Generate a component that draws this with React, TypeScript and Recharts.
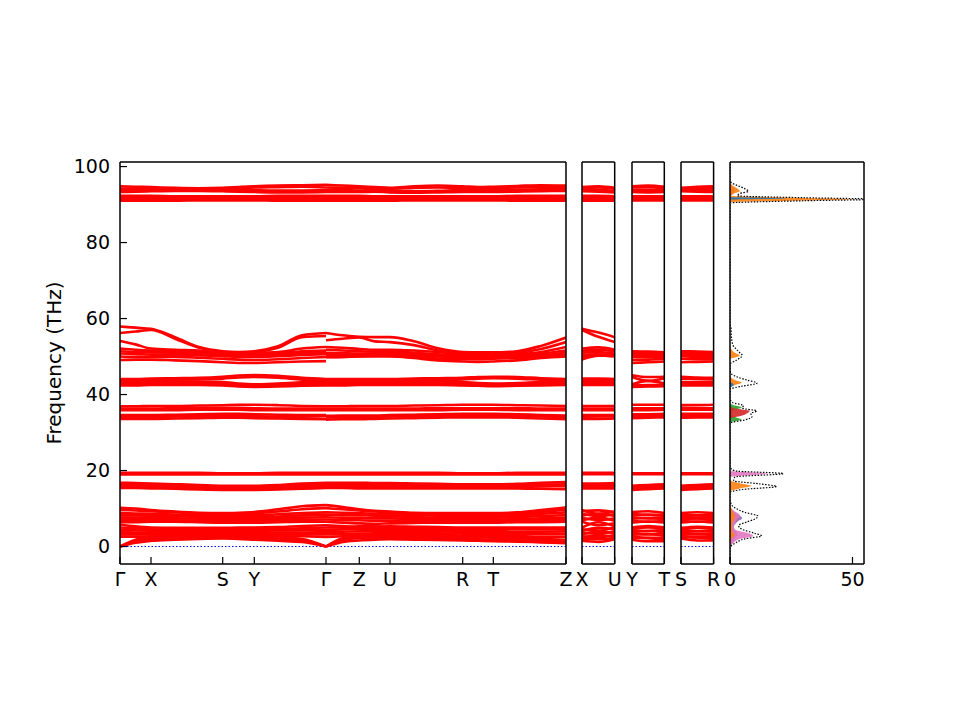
import React from "react";
import {
  LineChart,
  ComposedChart,
  Line,
  Area,
  XAxis,
  YAxis,
  ReferenceLine,
} from "recharts";

// ---- axes ----
const freqDomain: [number, number] = [-4.6, 101.2];
const freqTicks = [0, 20, 40, 60, 80, 100];

// k-path positions (main panel, distance along path)
const pathA = [0, 15.5, 31, 55, 79, 102.7, 118.5, 134.3, 158, 182, 206];
const pathB = [206, 222.6, 239.3, 254.7, 270, 294, 318, 342.7, 358, 373.3, 397, 421, 446];
const kTicks = [0, 31, 102.7, 134.3, 206, 239.3, 270, 342.7, 373.3, 446];
const kLabels = ["Γ", "X", "S", "Y", "Γ", "Z", "U", "R", "T", "Z"];

// ---- bands, segment Γ-X-S-Y-Γ ----
const lowA = [
  [10.2, 10.0, 9.6, 9.2, 8.9, 8.8, 8.9, 9.1, 9.8, 10.6, 10.9],
  [9.6, 9.5, 9.3, 9.0, 8.6, 8.4, 8.5, 8.7, 9.2, 9.8, 10.1],
  [8.8, 8.7, 8.6, 8.4, 8.2, 8.0, 8.1, 8.2, 8.5, 8.8, 9.0],
  [8.2, 8.2, 8.1, 8.0, 7.8, 7.6, 7.6, 7.7, 7.9, 8.2, 8.4],
  [7.6, 7.6, 7.5, 7.4, 7.3, 7.2, 7.2, 7.3, 7.4, 7.6, 7.7],
  [7.0, 7.0, 6.9, 6.9, 6.8, 6.8, 6.7, 6.8, 6.9, 7.0, 7.1],
  [6.4, 6.4, 6.5, 6.5, 6.4, 6.3, 6.3, 6.3, 6.4, 6.5, 6.5],
  [5.8, 5.3, 5.0, 4.9, 4.9, 4.9, 5.0, 5.0, 5.1, 5.4, 5.6],
  [5.0, 4.8, 4.5, 4.4, 4.3, 4.4, 4.6, 4.7, 4.6, 4.8, 5.0],
  [4.4, 4.3, 4.1, 4.0, 4.0, 4.1, 4.2, 4.3, 4.2, 4.3, 4.4],
  [3.8, 3.7, 3.6, 3.6, 3.6, 3.7, 3.8, 3.8, 3.7, 3.7, 3.8],
  [3.2, 3.2, 3.2, 3.2, 3.3, 3.4, 3.4, 3.4, 3.3, 3.2, 3.2],
  [2.6, 2.6, 2.7, 2.8, 3.0, 3.1, 3.1, 3.1, 2.9, 2.7, 2.5],
  [0, 1.8, 2.4, 2.6, 2.7, 2.8, 2.8, 2.7, 2.4, 2.0, 0],
  [0, 1.4, 2.0, 2.2, 2.4, 2.5, 2.4, 2.3, 2.0, 1.6, 0],
  [0, 1.0, 1.5, 1.8, 2.0, 2.1, 2.0, 1.8, 1.5, 1.2, 0],
];
const band16A = [
  [19.4, 19.4, 19.4, 19.4, 19.4, 19.3, 19.3, 19.3, 19.4, 19.4, 19.4],
  [19.0, 19.0, 19.0, 19.0, 19.0, 19.0, 19.0, 19.0, 19.0, 19.0, 19.0],
  [16.8, 16.7, 16.6, 16.4, 16.2, 16.0, 16.0, 16.0, 16.2, 16.6, 16.8],
  [16.3, 16.3, 16.2, 16.0, 15.8, 15.6, 15.6, 15.6, 15.8, 16.1, 16.3],
  [15.8, 15.8, 15.7, 15.6, 15.4, 15.2, 15.2, 15.2, 15.4, 15.6, 15.8],
  [15.4, 15.4, 15.3, 15.2, 15.0, 14.9, 14.9, 14.9, 15.0, 15.2, 15.4],
];
const band35A = [
  [36.9, 36.9, 37.0, 37.0, 37.1, 37.2, 37.3, 37.3, 37.2, 37.0, 36.9],
  [36.3, 36.3, 36.3, 36.4, 36.5, 36.5, 36.5, 36.4, 36.3, 36.3, 36.3],
  [35.9, 35.9, 35.9, 35.9, 36.0, 36.0, 36.0, 35.9, 35.9, 35.9, 35.9],
  [34.6, 34.6, 34.6, 34.7, 34.8, 34.9, 34.9, 34.8, 34.7, 34.6, 34.6],
  [34.2, 34.2, 34.1, 34.2, 34.3, 34.4, 34.4, 34.3, 34.2, 34.2, 34.3],
  [33.6, 33.6, 33.6, 33.7, 33.8, 33.9, 33.9, 33.8, 33.7, 33.6, 33.5],
];
const band43A = [
  [44.1, 44.1, 44.2, 44.3, 44.4, 44.7, 45.0, 45.1, 44.9, 44.4, 44.1],
  [43.7, 43.7, 43.8, 43.9, 44.0, 44.2, 44.5, 44.6, 44.4, 43.9, 43.7],
  [43.3, 43.3, 43.3, 43.4, 43.4, 43.3, 42.9, 42.7, 42.9, 43.2, 43.3],
  [42.8, 42.9, 42.9, 43.0, 43.0, 42.8, 42.5, 42.4, 42.5, 42.8, 42.8],
  [42.4, 42.4, 42.5, 42.5, 42.5, 42.4, 42.1, 42.0, 42.1, 42.3, 42.4],
];
const band52A = [
  [57.9, 57.6, 57.3, 55.1, 52.5, 51.4, 51.2, 51.4, 52.7, 55.6, 56.2],
  [56.2, 56.6, 57.0, 54.7, 52.3, 51.2, 51.0, 51.2, 52.3, 55.1, 55.4],
  [54.1, 53.2, 52.1, 51.8, 51.6, 51.0, 50.9, 51.0, 51.2, 52.1, 52.5],
  [52.1, 51.8, 51.6, 51.5, 51.3, 50.8, 50.6, 50.6, 50.8, 51.4, 51.6],
  [51.4, 51.2, 51.1, 51.0, 50.9, 50.5, 50.3, 50.3, 50.5, 50.9, 51.1],
  [50.8, 50.7, 50.5, 50.4, 50.3, 50.1, 49.9, 49.9, 50.1, 50.4, 50.6],
  [50.0, 49.9, 49.9, 49.9, 49.7, 49.4, 49.2, 49.1, 49.3, 49.6, 49.9],
  [49.1, 49.2, 49.2, 49.0, 48.8, 48.5, 48.3, 48.3, 48.5, 48.7, 48.8],
];
const band93A = [
  [91.0, 91.0, 91.0, 91.0, 91.1, 91.1, 91.1, 91.1, 91.0, 91.0, 91.0],
  [91.4, 91.4, 91.5, 91.5, 91.5, 91.5, 91.5, 91.5, 91.5, 91.4, 91.4],
  [91.9, 91.9, 91.9, 92.0, 92.0, 92.0, 92.0, 92.0, 91.9, 91.9, 91.9],
  [92.3, 92.3, 92.3, 92.2, 92.2, 92.2, 92.2, 92.2, 92.3, 92.3, 92.3],
  [93.3, 93.4, 93.5, 93.6, 93.6, 93.5, 93.4, 93.3, 93.2, 93.2, 93.3],
  [93.8, 93.8, 93.8, 94.0, 94.1, 94.0, 93.9, 93.8, 93.7, 93.7, 93.8],
  [94.2, 94.2, 94.3, 94.2, 94.1, 94.2, 94.3, 94.5, 94.6, 94.7, 94.5],
  [94.8, 94.7, 94.6, 94.4, 94.3, 94.4, 94.6, 94.8, 95.0, 95.1, 95.2],
];

// ---- bands, segment Γ-Z-U-R-T-Z ----
const lowB = [
  [10.9, 10.4, 9.8, 9.4, 9.2, 8.9, 8.8, 8.8, 8.8, 8.8, 9.0, 9.6, 10.3],
  [10.1, 9.8, 9.5, 9.2, 9.0, 8.7, 8.5, 8.4, 8.4, 8.4, 8.6, 9.1, 9.7],
  [9.0, 8.9, 8.8, 8.6, 8.5, 8.3, 8.1, 8.0, 8.0, 8.0, 8.2, 8.6, 9.0],
  [8.4, 8.3, 8.2, 8.1, 8.0, 7.8, 7.6, 7.6, 7.6, 7.6, 7.8, 8.0, 8.3],
  [7.7, 7.6, 7.5, 7.4, 7.4, 7.3, 7.2, 7.1, 7.1, 7.1, 7.2, 7.4, 7.6],
  [7.1, 7.0, 6.9, 6.8, 6.8, 6.8, 6.7, 6.7, 6.7, 6.7, 6.8, 6.9, 7.0],
  [6.5, 6.3, 6.1, 6.0, 6.1, 6.2, 6.3, 6.3, 6.3, 6.3, 6.4, 6.4, 6.5],
  [5.6, 5.4, 5.1, 5.2, 5.3, 5.2, 5.1, 5.0, 5.0, 5.0, 5.0, 5.0, 5.0],
  [5.0, 5.1, 5.3, 5.3, 5.1, 4.9, 4.8, 4.7, 4.7, 4.7, 4.8, 4.8, 4.8],
  [4.4, 4.5, 4.6, 4.6, 4.6, 4.6, 4.5, 4.4, 4.4, 4.4, 4.5, 4.5, 4.6],
  [3.8, 3.9, 4.0, 4.1, 4.1, 4.1, 4.0, 3.9, 3.9, 3.8, 3.8, 3.9, 4.0],
  [3.2, 3.3, 3.4, 3.5, 3.5, 3.5, 3.5, 3.4, 3.3, 3.3, 3.3, 3.4, 3.4],
  [2.5, 2.7, 2.9, 3.0, 3.0, 3.0, 3.0, 2.9, 2.8, 2.8, 2.7, 2.6, 2.6],
  [0, 2.2, 2.6, 2.7, 2.7, 2.6, 2.6, 2.5, 2.4, 2.3, 2.2, 2.0, 1.8],
  [0, 1.7, 2.2, 2.3, 2.3, 2.2, 2.1, 2.0, 1.9, 1.8, 1.7, 1.5, 1.3],
  [0, 1.2, 1.6, 1.8, 1.9, 1.8, 1.7, 1.6, 1.5, 1.4, 1.3, 1.1, 0.9],
];
const band16B = [
  [19.4, 19.4, 19.4, 19.4, 19.4, 19.4, 19.4, 19.3, 19.3, 19.3, 19.4, 19.4, 19.4],
  [19.0, 19.0, 19.0, 19.0, 19.0, 19.0, 19.0, 19.0, 19.0, 19.0, 19.0, 19.0, 19.0],
  [16.8, 16.8, 16.8, 16.7, 16.7, 16.6, 16.5, 16.4, 16.4, 16.4, 16.5, 16.8, 17.0],
  [16.3, 16.3, 16.3, 16.3, 16.2, 16.1, 16.0, 16.0, 16.0, 16.0, 16.1, 16.3, 16.4],
  [15.8, 15.8, 15.8, 15.8, 15.8, 15.7, 15.6, 15.6, 15.6, 15.6, 15.7, 15.8, 15.9],
  [15.4, 15.4, 15.3, 15.3, 15.3, 15.3, 15.3, 15.3, 15.3, 15.3, 15.3, 15.2, 15.1],
];
const band35B = [
  [36.9, 36.9, 37.0, 37.0, 37.0, 37.1, 37.2, 37.3, 37.3, 37.3, 37.2, 37.1, 37.0],
  [36.3, 36.3, 36.3, 36.3, 36.3, 36.3, 36.4, 36.4, 36.4, 36.4, 36.4, 36.3, 36.3],
  [35.9, 35.9, 35.9, 35.9, 35.9, 35.9, 35.9, 36.0, 36.0, 36.0, 35.9, 35.9, 35.9],
  [34.4, 34.5, 34.5, 34.5, 34.6, 34.7, 34.8, 34.9, 34.9, 34.9, 34.8, 34.6, 34.5],
  [34.0, 34.0, 34.1, 34.1, 34.2, 34.3, 34.4, 34.5, 34.5, 34.5, 34.4, 34.2, 34.1],
  [33.4, 33.5, 33.5, 33.6, 33.7, 33.8, 33.9, 34.0, 34.0, 34.0, 33.9, 33.7, 33.5],
];
const band43B = [
  [44.1, 44.1, 44.1, 44.1, 44.1, 44.2, 44.3, 44.4, 44.6, 44.7, 44.6, 44.3, 44.1],
  [43.7, 43.7, 43.7, 43.8, 43.8, 43.8, 43.9, 44.0, 44.2, 44.3, 44.2, 43.9, 43.7],
  [43.3, 43.3, 43.3, 43.4, 43.4, 43.4, 43.4, 43.3, 43.0, 42.9, 43.0, 43.3, 43.4],
  [42.8, 42.8, 42.9, 42.9, 42.9, 42.9, 42.9, 42.8, 42.6, 42.5, 42.6, 42.8, 42.9],
  [42.4, 42.4, 42.5, 42.5, 42.5, 42.5, 42.5, 42.4, 42.3, 42.2, 42.3, 42.4, 42.5],
];
const band52B = [
  [56.2, 55.6, 55.2, 55.1, 55.1, 54.0, 52.2, 51.2, 51.1, 51.1, 51.4, 52.8, 55.0],
  [54.3, 54.7, 55.0, 54.0, 53.8, 53.0, 51.6, 50.8, 50.7, 50.7, 51.0, 52.0, 53.8],
  [52.5, 52.3, 52.0, 51.8, 51.8, 51.6, 51.2, 50.6, 50.4, 50.4, 50.6, 51.2, 52.5],
  [51.8, 51.6, 51.4, 51.3, 51.3, 51.0, 50.6, 50.3, 50.2, 50.2, 50.4, 50.8, 51.6],
  [51.0, 50.9, 50.8, 50.8, 50.7, 50.5, 50.2, 50.0, 50.0, 50.0, 50.1, 50.4, 51.0],
  [50.4, 50.4, 50.3, 50.3, 50.3, 50.2, 50.0, 49.8, 49.8, 49.9, 50.0, 50.3, 50.6],
  [49.9, 49.9, 50.0, 50.0, 50.0, 49.8, 49.5, 49.3, 49.3, 49.4, 49.6, 49.9, 50.2],
  [49.8, 49.9, 50.1, 50.2, 50.2, 49.6, 49.0, 48.7, 48.6, 48.7, 49.0, 49.6, 50.0],
];
const band93B = [
  [91.0, 91.0, 91.0, 91.0, 91.0, 91.1, 91.1, 91.1, 91.1, 91.1, 91.0, 91.0, 91.0],
  [91.4, 91.4, 91.4, 91.4, 91.5, 91.5, 91.5, 91.5, 91.5, 91.5, 91.5, 91.4, 91.4],
  [91.9, 91.9, 91.9, 91.9, 92.0, 92.0, 92.0, 92.0, 92.0, 92.0, 91.9, 91.9, 91.9],
  [92.3, 92.3, 92.3, 92.2, 92.2, 92.2, 92.2, 92.2, 92.2, 92.2, 92.3, 92.3, 92.3],
  [93.3, 93.3, 93.3, 93.4, 93.2, 93.1, 93.2, 93.3, 93.3, 93.3, 93.4, 93.5, 93.6],
  [93.8, 93.8, 93.7, 93.8, 93.6, 93.5, 93.6, 93.8, 93.8, 93.8, 93.9, 94.0, 94.1],
  [94.5, 94.4, 94.3, 94.2, 94.2, 94.4, 94.5, 94.3, 94.2, 94.3, 94.5, 94.7, 94.6],
  [95.2, 95.0, 94.8, 94.6, 94.4, 94.8, 95.0, 94.8, 94.6, 94.7, 94.9, 95.1, 95.0],
];

// mid-segment values for the short paths X-U, Y-T, S-R (same band order)
const midXU = [
  8.6, 9.5, 8.0, 8.6, 7.0, 7.6, 5.6, 6.4, 4.2, 4.9, 3.3, 3.9, 2.4, 2.9, 1.9, 1.2,
  19.4, 19.0, 16.6, 16.2, 15.7, 15.3,
  37.0, 36.3, 35.9, 34.6, 34.2, 33.6,
  44.2, 43.8, 43.3, 42.9, 42.5,
  56.3, 55.2, 52.4, 51.8, 51.2, 50.6, 50.3, 50.2,
  91.0, 91.5, 92.0, 92.3, 93.4, 93.9, 94.5, 94.8,
];
const midYT = [
  9.3, 8.3, 8.4, 7.4, 7.5, 6.5, 6.6, 5.4, 5.0, 4.1, 4.1, 3.2, 3.3, 2.3, 2.2, 1.4,
  19.3, 19.0, 16.2, 15.8, 15.4, 15.1,
  37.3, 36.4, 35.9, 34.8, 34.4, 33.9,
  44.6, 43.6, 43.6, 42.5, 42.1,
  51.3, 51.0, 50.7, 50.4, 50.1, 49.8, 49.2, 48.5,
  91.1, 91.5, 92.0, 92.2, 93.2, 93.9, 94.6, 95.0,
];
const midSR = [
  9.0, 8.2, 8.2, 7.4, 7.4, 6.5, 6.6, 5.2, 4.9, 4.0, 4.0, 3.2, 3.3, 2.4, 2.4, 1.6,
  19.3, 19.0, 16.2, 15.8, 15.4, 15.1,
  37.2, 36.4, 36.0, 34.9, 34.4, 34.0,
  44.5, 44.1, 43.3, 42.8, 42.4,
  51.3, 51.0, 50.8, 50.5, 50.2, 49.9, 49.3, 48.6,
  91.1, 91.5, 92.0, 92.2, 93.4, 93.8, 94.4, 94.7,
];

// ---- DOS: [frequency, density] ----
const dosTotal = [
  [-4.6, 0], [-0.5, 0], [0, 0.3], [1, 2.5], [2, 6], [2.8, 12.9], [3.5, 10], [4.5, 5], [5.5, 3.5],
  [6.5, 7], [7.2, 10], [8, 11.4], [9, 6], [10, 2.5], [11, 0.6], [12.5, 0], [14.2, 0], [15, 5],
  [15.8, 19], [16.5, 12], [17.3, 1.5], [18.3, 2], [19.2, 21.8], [19.9, 2], [21, 0], [32.5, 0],
  [33.3, 6], [34.2, 9], [35, 8.5], [35.7, 10.9], [36.4, 5], [37.1, 5.5], [37.9, 1], [39, 0],
  [41.4, 0], [42.2, 5], [43, 11], [43.8, 7], [44.6, 3], [45.5, 0.5], [46.5, 0], [48, 0],
  [49, 2.5], [50.3, 5], [51, 4], [52, 2.5], [53, 1.2], [55, 0.6], [57.5, 0.4], [58.5, 0],
  [90.4, 0], [91.0, 30], [91.4, 60], [91.8, 30], [92.3, 3], [92.9, 4], [93.5, 7.5], [94.2, 6],
  [95, 3], [95.8, 0.5], [96.5, 0], [101.2, 0],
];
const pdosOrange = [
  [0, 0], [2, 0.5], [3, 2], [4, 1], [6, 1], [8, 2], [10, 0.5], [12, 0], [14.5, 0], [15.3, 4],
  [15.9, 8.8], [16.5, 5], [17.3, 0.5], [18, 0], [41.8, 0], [42.5, 2], [43.1, 4.8], [43.8, 2],
  [44.5, 0.5], [45.5, 0], [49.3, 0], [50.3, 4], [51, 2], [52, 0.5], [53, 0], [90.6, 0],
  [91.0, 25], [91.4, 50], [91.8, 25], [92.3, 0.5], [92.9, 1.5], [93.5, 4], [94.2, 3], [95, 1], [95.8, 0],
];
const pdosPink = [
  [0, 0], [1, 1.5], [2, 4], [2.8, 9.4], [3.6, 7], [4.5, 2], [5.5, 1.5], [6.5, 2.5], [7.5, 3.5],
  [8.3, 4], [9.2, 2], [10, 0.6], [11, 0], [18.3, 0], [19.2, 15.5], [19.9, 0.5], [20.5, 0],
];
const pdosPurple = [
  [0, 0], [1, 1], [2, 2], [3, 3], [4, 2.5], [5, 1.5], [6.5, 3], [7.5, 5], [8.5, 3], [9.5, 1],
  [11, 0], [90.8, 0], [91.4, 4], [92, 0], [93, 1.5], [94, 2], [95, 0.5], [96, 0],
];
const pdosBrown = [[5.8, 0], [6.8, 3], [7.6, 3.5], [8.4, 2], [9.4, 0]];
const pdosGreen = [[32.8, 0], [33.4, 4.8], [34.1, 2], [35, 0.5], [35.9, 1.5], [36.6, 4.8], [37.3, 1], [38, 0]];
const pdosRed = [[33.8, 0], [34.5, 5], [35.1, 7], [35.7, 8], [36.3, 2], [37, 0]];
const pdosBlue = [[41.8, 0], [42.6, 1.5], [43.4, 0], [91.3, 0], [91.6, 23], [91.9, 0]];

// ---- build series ----
const bandsA = [...lowA, ...band16A, ...band35A, ...band43A, ...band52A, ...band93A];
const bandsB = [...lowB, ...band16B, ...band35B, ...band43B, ...band52B, ...band93B];

type Pt = { k: number; f: number };
const mainSeries: Pt[][] = [
  ...bandsA.map((vals) => vals.map((f, i) => ({ k: pathA[i], f }))),
  ...bandsB.map((vals) => vals.map((f, i) => ({ k: pathB[i], f }))),
];
const shortSeries = (ia: number, ib: number, mids: number[]): Pt[][] =>
  bandsA.map((a, j) => [
    { k: 0, f: a[ia] },
    { k: 0.5, f: mids[j] },
    { k: 1, f: bandsB[j][ib] },
  ]);
const seriesXU = shortSeries(2, 4, midXU); // X -> U
const seriesYT = shortSeries(7, 9, midYT); // Y -> T
const seriesSR = shortSeries(5, 7, midSR); // S -> R

const toPts = (arr: number[][]) => arr.map(([f, v]) => ({ f, v }));
const pdos = [
  { color: "#9467bd", pts: pdosPurple },
  { color: "#8c564b", pts: pdosBrown },
  { color: "#e377c2", pts: pdosPink },
  { color: "#2ca02c", pts: pdosGreen },
  { color: "#d62728", pts: pdosRed },
  { color: "#ff7f0e", pts: pdosOrange },
  { color: "#1f77b4", pts: pdosBlue },
];

// ---- styles ----
const axisLine = { stroke: "#000", strokeWidth: 1.5 };
const tickLine = { stroke: "#000", strokeWidth: 1.2 };
const tickText = { fill: "#000", fontSize: 19 };
const TOP = 161;
const BOTTOM = 126;
const RED = "#ff0000";

const frameAxes = (xDomain: [number, number], xTicks: number[], fmt: (v: number) => string, topTicks: number[]) => [
  <XAxis
    key="xb"
    xAxisId="b"
    type="number"
    dataKey="k"
    domain={xDomain}
    ticks={xTicks}
    tickFormatter={fmt}
    interval={0}
    height={30}
    tickSize={-7}
    tickMargin={16}
    axisLine={axisLine}
    tickLine={tickLine}
    tick={tickText}
    allowDataOverflow
  />,
  <XAxis
    key="xt"
    xAxisId="t"
    orientation="top"
    type="number"
    domain={xDomain}
    ticks={topTicks}
    interval={0}
    height={1}
    tickSize={-7}
    axisLine={axisLine}
    tickLine={tickLine}
    tick={false}
    allowDataOverflow
  />,
  <YAxis
    key="yr"
    yAxisId="r"
    orientation="right"
    type="number"
    domain={freqDomain}
    ticks={freqTicks}
    width={1}
    tickSize={-7}
    axisLine={axisLine}
    tickLine={tickLine}
    tick={false}
    allowDataOverflow
  />,
];

function bandLines(series: Pt[][]) {
  return series.map((s, i) => (
    <Line
      key={i}
      xAxisId="b"
      yAxisId="l"
      data={s}
      dataKey="f"
      type="monotone"
      stroke={RED}
      strokeWidth={2.6}
      dot={false}
      activeDot={false}
      isAnimationActive={false}
    />
  ));
}

const zeroLine = (
  <ReferenceLine xAxisId="b" yAxisId="l" y={0} stroke="#0000ff" strokeWidth={1} strokeDasharray="1.5 2" />
);

function ShortPanel({ left, plotWidth, series, labels }: { left: number; plotWidth: number; series: Pt[][]; labels: [string, string] }) {
  const pad = 20;
  return (
    <div style={{ position: "absolute", left: left - pad, top: 0 }}>
      <LineChart width={plotWidth + 2 * pad} height={720} margin={{ top: TOP, right: pad - 1, bottom: BOTTOM, left: pad - 1 }}>
        {frameAxes([0, 1], [0, 1], (v) => (v === 0 ? labels[0] : labels[1]), [])}
        <YAxis
          yAxisId="l"
          type="number"
          domain={freqDomain}
          ticks={freqTicks}
          width={1}
          tickSize={-7}
          axisLine={axisLine}
          tickLine={tickLine}
          tick={false}
          allowDataOverflow
        />
        {zeroLine}
        {bandLines(series)}
      </LineChart>
    </div>
  );
}

export default function App() {
  return (
    <div style={{ position: "absolute", left: 0, top: 0, width: 960, height: 720, background: "#fff", fontFamily: "DejaVu Sans" }}>
      <div style={{ position: "absolute", left: 0, top: 0 }}>
        <LineChart width={580} height={720} margin={{ top: TOP, right: 13, bottom: BOTTOM, left: 0 }}>
          {frameAxes([0, 446], kTicks, (v) => kLabels[kTicks.indexOf(v)] ?? "", kTicks)}
          <YAxis
            yAxisId="l"
            type="number"
            domain={freqDomain}
            ticks={freqTicks}
            width={120}
            tickSize={-7}
            tickMargin={17}
            axisLine={axisLine}
            tickLine={tickLine}
            tick={tickText}
            allowDataOverflow
            label={{ value: "Frequency (THz)", angle: -90, position: "center", dx: -6, fill: "#000", fontSize: 20 }}
          />
          {zeroLine}
          {bandLines(mainSeries)}
        </LineChart>
      </div>
      <ShortPanel left={582.3} plotWidth={32.7} series={seriesXU} labels={["X", "U"]} />
      <ShortPanel left={631.7} plotWidth={32.3} series={seriesYT} labels={["Y", "T"]} />
      <ShortPanel left={680.7} plotWidth={32.6} series={seriesSR} labels={["S", "R"]} />
      <div style={{ position: "absolute", left: 710, top: 0 }}>
        <ComposedChart layout="vertical" width={174} height={720} margin={{ top: TOP, right: 19, bottom: BOTTOM, left: 19 }}>
          <XAxis
            xAxisId="b"
            type="number"
            domain={[0, 54.7]}
            ticks={[0, 50]}
            interval={0}
            height={30}
            tickSize={-7}
            tickMargin={16}
            axisLine={axisLine}
            tickLine={tickLine}
            tick={tickText}
            allowDataOverflow
          />
          <XAxis
            xAxisId="t"
            orientation="top"
            type="number"
            domain={[0, 54.7]}
            ticks={[50]}
            height={1}
            tickSize={-7}
            axisLine={axisLine}
            tickLine={tickLine}
            tick={false}
            allowDataOverflow
          />
          <YAxis
            yAxisId="l"
            type="number"
            dataKey="f"
            domain={freqDomain}
            ticks={freqTicks}
            reversed
            width={1}
            tickSize={-7}
            axisLine={axisLine}
            tickLine={tickLine}
            tick={false}
            allowDataOverflow
          />
          <YAxis
            yAxisId="r"
            orientation="right"
            type="number"
            domain={freqDomain}
            ticks={freqTicks}
            reversed
            width={1}
            tickSize={-7}
            axisLine={axisLine}
            tickLine={tickLine}
            tick={false}
            allowDataOverflow
          />
          {pdos.map((p, i) => (
            <Area
              key={i}
              xAxisId="b"
              yAxisId="l"
              data={toPts(p.pts)}
              dataKey="v"
              type="monotone"
              stroke="none"
              fill={p.color}
              fillOpacity={0.9}
              isAnimationActive={false}
            />
          ))}
          <Line
            xAxisId="b"
            yAxisId="l"
            data={toPts(dosTotal)}
            dataKey="v"
            type="monotone"
            stroke="#000"
            strokeWidth={1.2}
            strokeDasharray="1.5 1.5"
            dot={false}
            activeDot={false}
            isAnimationActive={false}
          />
        </ComposedChart>
      </div>
    </div>
  );
}
